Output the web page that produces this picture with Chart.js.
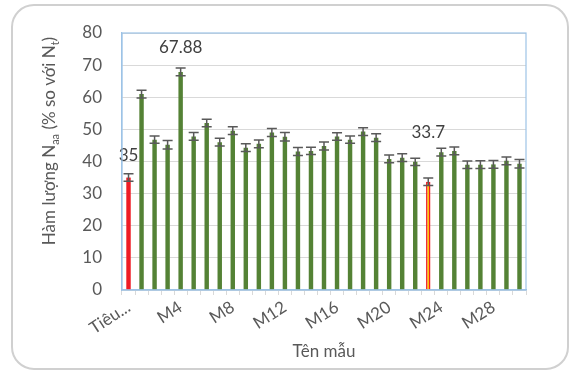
<!DOCTYPE html>
<html>
<head>
<meta charset="utf-8">
<script src="https://cdn.jsdelivr.net/npm/chart.js@4"></script>
<style>
  html, body { margin: 0; padding: 0; background: #fff; }
  canvas { display: block; }
</style>
</head>
<body>
<canvas id="grafico" width="569" height="371"></canvas>
<script>
// Datos
const categorias = ["Tiêu chuẩn", "M1", "M2", "M3", "M4", "M5", "M6", "M7", "M8", "M9", "M10",
  "M11", "M12", "M13", "M14", "M15", "M16", "M17", "M18", "M19", "M20",
  "M21", "M22", "M23", "M24", "M25", "M26", "M27", "M28", "M29", "M30"];
const valores = [35, 61.0, 46.8, 45.2, 67.88, 47.8, 52.0, 46.0, 49.6, 44.3, 45.5,
  49.0, 47.7, 43.1, 43.3, 44.8, 47.8, 46.8, 49.3, 47.4, 40.8,
  41.2, 39.9, 33.7, 42.9, 43.3, 39.0, 39.0, 39.1, 40.2, 39.3];
const errores = [1.15, 1.2, 1.15, 1.3, 1.2, 1.2, 1.15, 1.2, 1.2, 1.2, 1.2,
  1.25, 1.3, 1.25, 1.15, 1.25, 1.15, 1.15, 1.2, 1.2, 1.2,
  1.2, 1.15, 1.15, 1.2, 1.2, 1.15, 1.2, 1.2, 1.2, 1.3];
const etiquetasY = [0, 10, 20, 30, 40, 50, 60, 70, 80];
const indicesEtiqueta = [0, 4, 23]; // barras con valor escrito

const FUENTE = "Lato, 'Open Sans', sans-serif";
const GRIS_TEXTO = "#595959";

// Colores: estándar en rojo, M23 amarillo con borde rojo, resto verde
const rellenos = valores.map((v, i) => i === 0 ? "#ee1c25" : (i === 23 ? "#ffc000" : "#548235"));
const bordes = valores.map((v, i) => i === 23 ? "#ee1c25" : "rgba(0,0,0,0)");
const anchoBorde = valores.map((v, i) => i === 23 ? 1.5 : 0);

// Marco exterior redondeado y borde del área de trazado
const pluginMarco = {
  id: "marco",
  beforeDraw(chart) {
    const ctx = chart.ctx;
    ctx.save();
    ctx.fillStyle = "#fff";
    ctx.fillRect(0, 0, chart.width, chart.height);
    ctx.strokeStyle = "#d0d0d0";
    ctx.lineWidth = 2;
    ctx.beginPath();
    ctx.roundRect(12, 5, 556, 364, 22);
    ctx.stroke();
    ctx.restore();
  },
  afterDraw(chart) {
    const a = chart.chartArea, ctx = chart.ctx;
    ctx.save();
    ctx.strokeStyle = "#9dc3e6";
    ctx.lineWidth = 1.2;
    ctx.strokeRect(a.left, a.top, a.right - a.left, a.bottom - a.top);
    ctx.restore();
  }
};

// Barras de error
const pluginErrores = {
  id: "errores",
  afterDatasetsDraw(chart) {
    const ctx = chart.ctx, y = chart.scales.y;
    ctx.save();
    ctx.strokeStyle = "#595959";
    ctx.lineWidth = 1.5;
    chart.getDatasetMeta(0).data.forEach((barra, i) => {
      const arriba = y.getPixelForValue(valores[i] + errores[i]);
      const abajo = y.getPixelForValue(valores[i] - errores[i]);
      const x = barra.x;
      ctx.beginPath();
      ctx.moveTo(x, arriba); ctx.lineTo(x, abajo);
      ctx.moveTo(x - 5, arriba); ctx.lineTo(x + 5, arriba);
      ctx.moveTo(x - 5, abajo); ctx.lineTo(x + 5, abajo);
      ctx.stroke();
    });
    ctx.restore();
  }
};

// Etiquetas de valor (desplazadas a mano como en el original)
const desplazamientos = { 0: -22, 4: -24, 23: -49 };
const pluginEtiquetas = {
  id: "etiquetas",
  afterDatasetsDraw(chart) {
    const ctx = chart.ctx, y = chart.scales.y;
    const barras = chart.getDatasetMeta(0).data;
    ctx.save();
    ctx.font = "17px " + FUENTE;
    ctx.fillStyle = "#404040";
    ctx.textAlign = "center";
    ctx.textBaseline = "middle";
    indicesEtiqueta.forEach(i => {
      ctx.fillText(String(valores[i]), barras[i].x, y.getPixelForValue(valores[i]) + desplazamientos[i]);
    });
    ctx.restore();
  }
};

// Títulos de los ejes (con subíndices)
function textoConSubindices(ctx, partes, x, y, tam) {
  // partes: [texto, esSub]
  let total = 0;
  partes.forEach(p => {
    ctx.font = (p[1] ? Math.round(tam * 0.62) : tam) + "px " + FUENTE;
    total += ctx.measureText(p[0]).width;
  });
  let cx = x - total / 2;
  partes.forEach(p => {
    ctx.font = (p[1] ? Math.round(tam * 0.62) : tam) + "px " + FUENTE;
    ctx.fillText(p[0], cx, p[1] ? y + tam * 0.3 : y);
    cx += ctx.measureText(p[0]).width;
  });
}

const pluginTitulos = {
  id: "titulos",
  afterDraw(chart) {
    const ctx = chart.ctx, a = chart.chartArea;
    ctx.save();
    ctx.fillStyle = GRIS_TEXTO;
    ctx.textBaseline = "middle";
    ctx.textAlign = "left";
    ctx.translate(50, 141);
    ctx.rotate(-Math.PI / 2);
    textoConSubindices(ctx, [["Hàm lượng N", false], ["aa", true], [" (% so với N", false], ["t", true], [")", false]], 0, 0, 17);
    ctx.restore();

    ctx.save();
    ctx.fillStyle = GRIS_TEXTO;
    ctx.font = "17px " + FUENTE;
    ctx.textAlign = "center";
    ctx.textBaseline = "middle";
    ctx.fillText("Tên mẫu", (a.left + a.right) / 2, 352);
    ctx.restore();
  }
};

const ctx = document.getElementById("grafico").getContext("2d");
new Chart(ctx, {
  type: "bar",
  data: {
    labels: categorias,
    datasets: [{
      data: valores,
      backgroundColor: rellenos,
      borderColor: bordes,
      borderWidth: anchoBorde,
      barPercentage: 0.34,
      categoryPercentage: 1
    }]
  },
  options: {
    responsive: false,
    animation: false,
    layout: { padding: { top: 33, right: 43, left: 0, bottom: 0 } },
    plugins: {
      legend: { display: false },
      tooltip: { enabled: false }
    },
    scales: {
      x: {
        afterFit: (s) => { s.height = 81; },
        grid: {
          drawOnChartArea: false,
          drawTicks: true,
          tickLength: 5,
          color: "#d9d9d9"
        },
        border: { color: "#9dc3e6", width: 1.2 },
        ticks: {
          autoSkip: false,
          maxRotation: 33,
          minRotation: 33,
          padding: 2,
          color: GRIS_TEXTO,
          font: { family: FUENTE, size: 17 },
          callback: function (val, i) {
            if (i % 4 !== 0) return "";
            const t = categorias[i];
            return t.length > 4 ? t.slice(0, 4) + "..." : t;
          }
        }
      },
      y: {
        min: 0,
        max: 80,
        afterFit: (s) => { s.width = 122; },
        afterBuildTicks: (s) => { s.ticks = etiquetasY.map(v => ({ value: v })); },
        grid: { color: "#d9d9d9", lineWidth: 1, drawTicks: false },
        border: { color: "#9dc3e6", width: 1.2 },
        ticks: {
          padding: 20,
          color: GRIS_TEXTO,
          font: { family: FUENTE, size: 17 }
        }
      }
    }
  },
  plugins: [pluginMarco, pluginErrores, pluginEtiquetas, pluginTitulos]
});
</script>
</body>
</html>
